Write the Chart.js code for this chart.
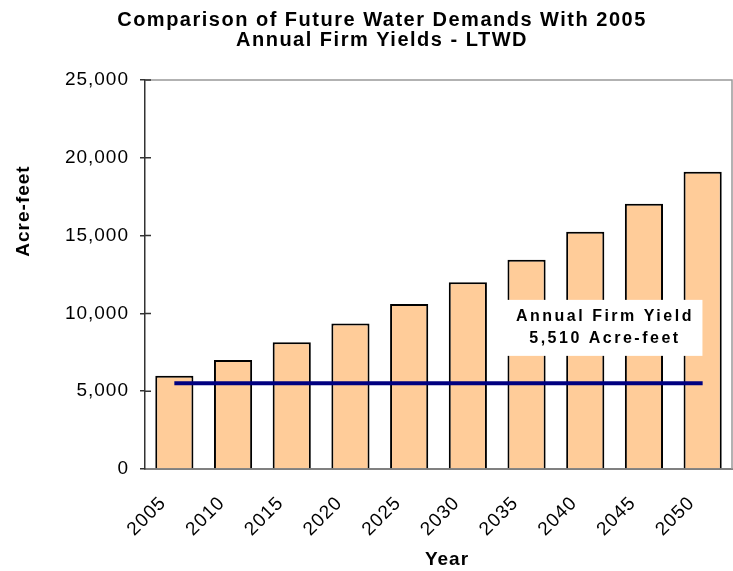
<!DOCTYPE html>
<html>
<head>
<meta charset="utf-8">
<title>LTWD - Future Water Demands</title>
<script src="https://cdn.jsdelivr.net/npm/chart.js@4.4.0/dist/chart.umd.min.js"></script>
<style>
  body { margin: 0; background: #fff; }
</style>
</head>
<body>
<canvas id="demand-chart" width="733" height="571"></canvas>
<script>
// Datos
const years = ['2005', '2010', '2015', '2020', '2025', '2030', '2035', '2040', '2045', '2050'];
const demand = [6000, 7000, 8150, 9350, 10600, 12000, 13450, 15250, 17050, 19100];
const firmYield = [5510, 5510, 5510, 5510, 5510, 5510, 5510, 5510, 5510, 5510];
const yTicks = [0, 5000, 10000, 15000, 20000, 25000];

// Textos
const titleLines = ['Comparison of Future Water Demands With 2005', 'Annual Firm Yields - LTWD'];
const yTitle = 'Acre-feet';
const xTitle = 'Year';
const noteLines = ['Annual Firm Yield', '5,510 Acre-feet'];
const noteAt = { x: 7.31, y: 9070 }; // en unidades de los ejes

const FONT = '"Liberation Sans", Arial, sans-serif';

// Espaciado de letras (estilo Excel)
const spacing = {
  id: 'spacing',
  beforeDraw(chart) { chart.ctx.letterSpacing = '1px'; }
};

// Títulos, marco y marcas internas del eje Y
const texts = {
  id: 'texts',
  afterDraw(chart) {
    const ctx = chart.ctx;
    const area = chart.chartArea;
    const yScale = chart.scales.y;
    ctx.save();

    // marco superior y derecho
    ctx.strokeStyle = '#999';
    ctx.lineWidth = 1.5;
    ctx.beginPath();
    ctx.moveTo(area.left, area.top);
    ctx.lineTo(area.right, area.top);
    ctx.lineTo(area.right, area.bottom);
    ctx.stroke();

    // las marcas del eje Y cruzan el eje
    ctx.strokeStyle = '#333';
    ctx.beginPath();
    yTicks.slice(1).forEach(v => {
      const y = yScale.getPixelForValue(v);
      ctx.moveTo(area.left, y);
      ctx.lineTo(area.left + 6, y);
    });
    ctx.stroke();

    ctx.fillStyle = '#000';
    ctx.textAlign = 'center';
    ctx.textBaseline = 'alphabetic';
    ctx.letterSpacing = '1.5px';
    ctx.font = 'bold 20px ' + FONT;
    ctx.fillText(titleLines[0], 382, 26);
    ctx.fillText(titleLines[1], 382, 46);

    ctx.letterSpacing = '1px';
    ctx.font = 'bold 19px ' + FONT;
    ctx.textBaseline = 'middle';
    ctx.fillText(xTitle, 447, 560);

    ctx.translate(24, 211);
    ctx.rotate(-Math.PI / 2);
    ctx.fillText(yTitle, 0, 0);
    ctx.restore();
  }
};

// Recuadro de la anotación
const note = {
  id: 'note',
  afterDatasetsDraw(chart) {
    const ctx = chart.ctx;
    const cx = chart.scales.x.getPixelForValue(noteAt.x);
    const cy = chart.scales.y.getPixelForValue(noteAt.y);
    ctx.save();
    ctx.fillStyle = '#fff';
    ctx.fillRect(cx - 98, cy - 28, 197, 56);
    ctx.fillStyle = '#000';
    ctx.font = 'bold 16px ' + FONT;
    ctx.letterSpacing = '2.5px';
    ctx.textAlign = 'center';
    ctx.textBaseline = 'middle';
    ctx.fillText(noteLines[0], cx + 1.5, cy - 11);
    ctx.fillText(noteLines[1], cx + 1.5, cy + 11);
    ctx.restore();
  }
};

const ctx = document.getElementById('demand-chart').getContext('2d');
const chart = new Chart(ctx, {
  type: 'bar',
  data: {
    labels: years,
    datasets: [
      {
        type: 'line',
        label: 'Annual Firm Yield',
        data: firmYield,
        borderColor: '#000080',
        borderWidth: 4,
        pointRadius: 0,
        order: 0
      },
      {
        label: 'Demand',
        data: demand,
        backgroundColor: '#FFCC99',
        borderColor: '#000',
        borderWidth: 2,
        categoryPercentage: 0.65,
        barPercentage: 1,
        order: 1
      }
    ]
  },
  options: {
    responsive: false,
    animation: false,
    layout: { padding: { top: 80, right: 1, left: 0, bottom: 0 } },
    plugins: {
      legend: { display: false },
      tooltip: { enabled: false }
    },
    scales: {
      x: {
        grid: { display: false, drawTicks: false },
        border: { color: '#808080', width: 2 },
        ticks: {
          minRotation: 45,
          maxRotation: 45,
          padding: 23,
          labelOffset: -11,
          color: '#000',
          font: { family: FONT, size: 19 }
        },
        afterFit(scale) {
          scale.height = 102;
          scale.paddingLeft = 0;
          scale.paddingRight = 0;
        }
      },
      y: {
        min: yTicks[0],
        max: yTicks[yTicks.length - 1],
        afterBuildTicks(axis) { axis.ticks = yTicks.map(v => ({ value: v })); },
        grid: { drawOnChartArea: false, drawTicks: true, tickLength: 5, color: '#333', lineWidth: 1.5 },
        border: { color: '#333', width: 1.5 },
        ticks: {
          padding: 11,
          color: '#000',
          font: { family: FONT, size: 19 },
          callback: v => v.toLocaleString('en-US')
        },
        afterFit(scale) { scale.width = 145; }
      }
    }
  },
  plugins: [spacing, note, texts]
});
</script>
</body>
</html>
